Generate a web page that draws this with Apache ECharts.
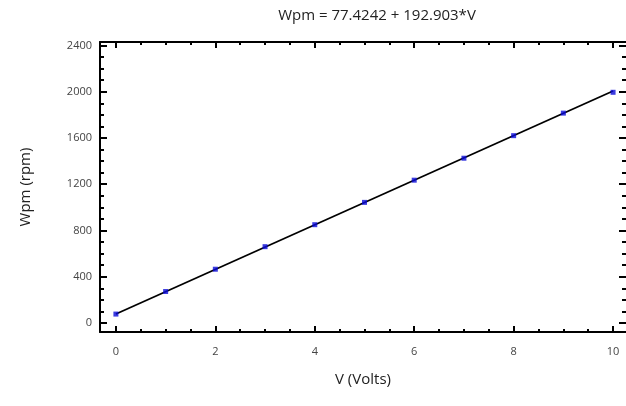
<!DOCTYPE html>
<html><head><meta charset="utf-8">
<script src="https://cdn.jsdelivr.net/npm/echarts@6/dist/echarts.min.js"></script>
<style>html,body{margin:0;padding:0;background:#fff}#c{width:626px;height:406px}</style>
</head><body><div id="c"></div>
<script>
const titleText = 'Wpm = 77.4242 + 192.903*V';
const xName = 'V (Volts)';
const yName = 'Wpm (rpm)';
const voltage = [0, 1, 2, 3, 4, 5, 6, 7, 8, 9, 10];
const wpm = [77, 272, 465, 660, 850, 1043, 1235, 1425, 1620, 1815, 1995];
const fitLineV = [0, 10];
const fitLineW = [77.4242, 2006.454];
const xMajor = [0, 2, 4, 6, 8, 10];
const xMinor = [0.5, 1, 1.5, 2.5, 3, 3.5, 4.5, 5, 5.5, 6.5, 7, 7.5, 8.5, 9, 9.5];
const yMajor = [0, 400, 800, 1200, 1600, 2000, 2400];
const yMinor = [100, 200, 300, 500, 600, 700, 900, 1000, 1100, 1300, 1400, 1500, 1700, 1800, 1900, 2100, 2200, 2300];

const XMIN = -0.32, XMAX = 10.26, YMIN = -78, YMAX = 2430;
const font = 'Open Sans';
const fmt = v => String(v);
function xa(pos, vals, len, labels, line, extra) {
  return Object.assign({
    type: 'value', position: pos, min: XMIN, max: XMAX,
    splitLine: {show: false},
    axisLine: {show: line, onZero: false, lineStyle: {color: '#000', width: 2}},
    axisTick: {show: true, inside: true, length: len, customValues: vals, lineStyle: {color: '#000', width: 2}},
    axisLabel: labels ? {show: true, customValues: xMajor, formatter: fmt, color: '#444', fontSize: 11, fontFamily: font, margin: 14} : {show: false}
  }, extra || {});
}
function ya(pos, vals, len, labels, line, extra) {
  return Object.assign({
    type: 'value', position: pos, min: YMIN, max: YMAX,
    splitLine: {show: false},
    axisLine: {show: line, onZero: false, lineStyle: {color: '#000', width: 2}},
    axisTick: {show: true, inside: true, length: len, customValues: vals, lineStyle: {color: '#000', width: 2}},
    axisLabel: labels ? {show: true, customValues: yMajor, formatter: fmt, color: '#444', fontSize: 11, fontFamily: font, margin: 8} : {show: false}
  }, extra || {});
}
const chart = echarts.init(document.getElementById('c'), null, {renderer: 'canvas'});
chart.setOption({
  animation: false,
  backgroundColor: '#fff',
  title: {text: titleText, left: 372, top: 3, textAlign: 'center',
    textStyle: {fontSize: 15, fontWeight: 'normal', color: '#222', fontFamily: font}},
  grid: {left: 100, top: 42, right: -4, bottom: 74, containLabel: false},
  xAxis: [
    xa('bottom', xMajor, 6, true, true, {name: xName, nameLocation: 'middle', nameGap: 40,
      nameTextStyle: {fontSize: 15, color: '#222', fontFamily: font}}),
    xa('bottom', xMinor, 3, false, false),
    xa('top', xMajor, 6, false, true),
    xa('top', xMinor, 3, false, false)
  ],
  yAxis: [
    ya('left', yMajor, 7, true, true, {name: yName, nameLocation: 'middle', nameGap: 67, nameRotate: 90,
      nameTextStyle: {fontSize: 15, color: '#222', fontFamily: font}}),
    ya('left', yMinor, 4, false, false),
    ya('right', yMajor, 7, false, false),
    ya('right', yMinor, 4, false, false)
  ],
  series: [
    {type: 'line', xAxisIndex: 0, yAxisIndex: 0, data: fitLineV.map((v, i) => [v, fitLineW[i]]),
      symbol: 'none', lineStyle: {color: '#000', width: 1.8}, z: 2},
    {type: 'scatter', xAxisIndex: 0, yAxisIndex: 0, data: voltage.map((v, i) => [v, wpm[i]]),
      symbol: 'rect', symbolSize: 5, itemStyle: {color: '#0a0ad8'}, z: 3}
  ]
});
</script></body></html>
